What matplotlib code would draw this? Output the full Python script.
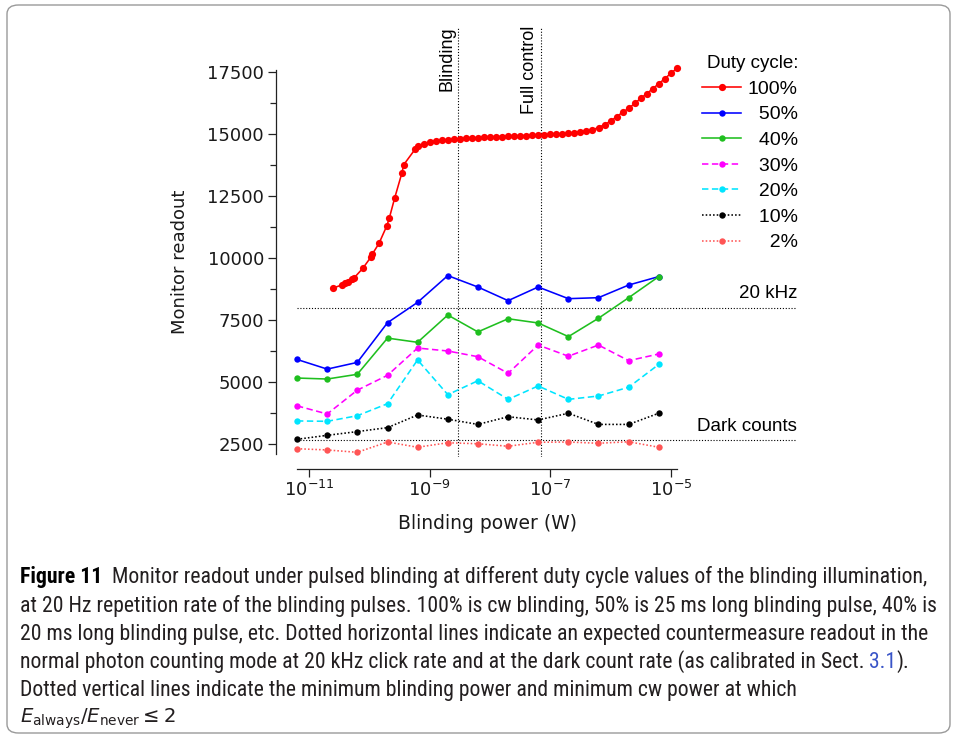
import numpy as np
import matplotlib
matplotlib.use("Agg")
import matplotlib.pyplot as plt
from matplotlib import font_manager
from matplotlib.patches import FancyBboxPatch
from matplotlib.ticker import FixedLocator, NullLocator

# pulsed blinding: power levels (W) shared by the 50..2 % series
power = [6.3e-12, 2.0e-11, 6.3e-11, 2.0e-10, 6.3e-10, 2.0e-9, 6.3e-9,
         2.0e-8, 6.3e-8, 2.0e-7, 6.3e-7, 2.0e-6, 6.3e-6]
duty50 = [5910, 5520, 5790, 7390, 8210, 9290, 8830, 8280, 8830, 8360, 8400, 8910, 9250]
duty40 = [5160, 5120, 5310, 6770, 6600, 7700, 7020, 7550, 7380, 6830, 7570, 8400, 9250]
duty30 = [4040, 3710, 4670, 5270, 6370, 6250, 6020, 5350, 6490, 6040, 6490, 5860, 6130]
duty20 = [3430, 3415, 3640, 4125, 5890, 4490, 5050, 4300, 4840, 4300, 4435, 4790, 5710]
duty10 = [2690, 2850, 3000, 3160, 3670, 3500, 3290, 3600, 3470, 3740, 3290, 3290, 3740]
duty2 = [2310, 2260, 2165, 2580, 2370, 2550, 2510, 2410, 2570, 2580, 2530, 2590, 2370]

# cw blinding (100 %): log10 of power and readout
cw_log_power = [-10.61, -10.46, -10.40, -10.35, -10.29, -10.26, -10.11, -9.97, -9.95,
                -9.84, -9.71, -9.67, -9.58, -9.46, -9.43, -9.24, -9.19,
                -9.1, -9.0, -8.9, -8.8, -8.7, -8.6, -8.5, -8.4, -8.3, -8.2, -8.1,
                -8.0, -7.9, -7.8, -7.7, -7.6, -7.5, -7.4, -7.3, -7.2, -7.1, -7.0,
                -6.9, -6.8, -6.7, -6.6, -6.5, -6.4, -6.3, -6.2, -6.1, -6.0, -5.9,
                -5.8, -5.7, -5.6, -5.5, -5.4, -5.3, -5.2, -5.1, -5.0, -4.9]
cw_readout = [8780, 8910, 8980, 9040, 9140, 9180, 9580, 10050, 10160,
              10590, 11300, 11600, 12420, 13430, 13760, 14390, 14520,
              14600, 14670, 14715, 14745, 14770, 14785, 14800, 14825, 14838, 14850, 14865,
              14878, 14890, 14895, 14905, 14918, 14930, 14935, 14947, 14959, 14970, 14987,
              15000, 15011, 15027, 15052, 15080, 15120, 15175, 15255, 15380, 15515, 15697,
              15874, 16035, 16230, 16439, 16624, 16826, 17030, 17230, 17447, 17648]

labels = ["100%", "50%", "40%", "30%", "20%", "10%", "2%"]
level_20khz = 8000
level_dark = 2650
p_blinding = 3.0e-9
p_full_control = 7.0e-8

caption = [
    "at 20 Hz repetition rate of the blinding pulses. 100% is cw blinding, 50% is 25 ms long blinding pulse, 40% is",
    "20 ms long blinding pulse, etc. Dotted horizontal lines indicate an expected countermeasure readout in the",
    "normal photon counting mode at 20 kHz click rate and at the dark count rate (as calibrated in Sect. ",
    "Dotted vertical lines indicate the minimum blinding power and minimum cw power at which",
]

W, H = 955, 738
PT = 0.72  # points per pixel at dpi 100
fig = plt.figure(figsize=(W / 100, H / 100), dpi=100)

# rounded frame around figure + caption
frame = FancyBboxPatch((7 / W, 5 / H), 943 / W, 728 / H,
                       boxstyle="round,pad=0,rounding_size=0.012",
                       transform=fig.transFigure, fill=False,
                       edgecolor="#9a9a9a", linewidth=1.0)
fig.add_artist(frame)

ax = fig.add_axes([297 / W, 1 - 457 / H, 500 / W, 432 / H])
ax.set_xscale("log")
ax.set_xlim(10 ** -11.2, 10 ** (-11.2 + 500 / 60.3))
ax.set_ylim(1976, 19394)

dot = (0, (1, 1.6))
ax.axhline(level_20khz, color="k", lw=0.8, ls=dot)
ax.axhline(level_dark, color="k", lw=0.8, ls=dot)
ax.axvline(p_blinding, ymax=0.995, color="k", lw=0.8, ls=dot)
ax.axvline(p_full_control, ymax=0.995, color="k", lw=0.8, ls=dot)

cw_power = 10 ** np.array(cw_log_power)
series = [
    (cw_power, cw_readout, "#ff0000", "-", 5.2),
    (power, duty50, "#0000ff", "-", 4.6),
    (power, duty40, "#1fbf1f", "-", 4.6),
    (power, duty30, "#ff00ff", (0, (4, 2.2)), 4.6),
    (power, duty20, "#00e5ff", (0, (4, 2.2)), 4.6),
    (power, duty10, "#000000", (0, (1, 1.3)), 4.6),
    (power, duty2, "#ff5555", (0, (1, 1.3)), 4.6),
]
handles = []
for (x, y, c, ls, ms) in series:
    h, = ax.plot(x, y, color=c, ls=ls, lw=1.15, marker="o", ms=ms,
                 markeredgewidth=0, clip_on=False, zorder=3)
    handles.append(h)

ann_font = "Liberation Sans"
ax.text(p_blinding / 1.12, 19350, "Blinding", rotation=90, ha="right", va="top",
        fontsize=13, family=ann_font)
ax.text(p_full_control / 1.12, 19350, "Full control", rotation=90, ha="right", va="top",
        fontsize=13, family=ann_font)
ax.text(1.0, 8220, "20 kHz", transform=ax.get_yaxis_transform(), ha="right",
        va="bottom", fontsize=13.5, family=ann_font)
ax.text(1.0, 2850, "Dark counts", transform=ax.get_yaxis_transform(), ha="right",
        va="bottom", fontsize=13.5, family=ann_font)

fsp = "\u2007"
leg_labels = [lab.rjust(4, fsp) for lab in labels]
leg = ax.legend(handles, leg_labels, title="Duty cycle:", loc="upper right",
                bbox_to_anchor=(1.002, 0.93), frameon=False, numpoints=1,
                borderpad=0, borderaxespad=0, handlelength=2.0, handletextpad=0.35,
                labelspacing=0.41, prop={"family": ann_font, "size": 14},
                title_fontproperties={"family": ann_font, "size": 13.5},
                alignment="right")

# axes styling
for side in ("top", "right"):
    ax.spines[side].set_visible(False)
ax.spines["left"].set_position(("outward", 21 * PT))
ax.spines["bottom"].set_position(("outward", 12 * PT))
ax.spines["left"].set_bounds(2100, 17560)
ax.spines["bottom"].set_bounds(10 ** -11.2, 10 ** -4.9)
for side in ("left", "bottom"):
    ax.spines[side].set_linewidth(0.9)
    ax.spines[side].set_color("#222222")

ax.yaxis.set_major_locator(FixedLocator([2500, 5000, 7500, 10000, 12500, 15000, 17500]))
ax.yaxis.set_minor_locator(FixedLocator([3750, 6250, 8750, 11250, 13750, 16250]))
ax.xaxis.set_major_locator(FixedLocator([1e-11, 1e-9, 1e-7, 1e-5]))
ax.xaxis.set_minor_locator(NullLocator())
ax.tick_params(which="major", length=8 * PT, width=0.9, color="#222222",
               labelsize=13, labelcolor="#1a1a1a", pad=4 * PT)
ax.tick_params(which="minor", length=6 * PT, width=0.9, color="#222222")
ax.tick_params(axis="x", labelsize=13, pad=3 * PT)

ax.set_xlabel("Blinding power (W)", fontsize=13.5, color="#1a1a1a")
ax.set_ylabel("Monitor readout", fontsize=13, color="#1a1a1a")
ax.xaxis.set_label_coords(0.38, -0.132)
ax.yaxis.set_label_coords(-0.215, 0.452)

# caption
installed = {f.name for f in font_manager.fontManager.ttflist}
cap_font = next((n for n in ["Liberation Sans Narrow", "Roboto Condensed",
                             "Noto Sans Condensed", "Open Sans Condensed", "Roboto"]
                 if n in installed), "DejaVu Sans")
cap_color = "#231f20"
cap_size = 12
baselines = [583, 612, 640, 668, 696, 723]

cap_texts = []
t0 = fig.text(20 / W, 1 - baselines[0] / H, "Figure 11", fontsize=cap_size,
              family=cap_font, weight="bold", color="black", va="baseline")
t1 = ax.annotate("  Monitor readout under pulsed blinding at different duty cycle values "
                 "of the blinding illumination,", xy=(1, 0), xycoords=t0, va="bottom",
                 fontsize=cap_size, family=cap_font, color=cap_color, annotation_clip=False)
cap_texts += [t0, t1]
line_texts = []
for i, line in enumerate(caption):
    t = fig.text(20 / W, 1 - baselines[i + 1] / H, line, fontsize=cap_size,
                 family=cap_font, color=cap_color, va="baseline")
    cap_texts.append(t)
    line_texts.append(t)
    if i == 2:
        tb = ax.annotate("3.1", xy=(1, 0), xycoords=t, va="bottom", fontsize=cap_size,
                         family=cap_font, color="#3a55c8", annotation_clip=False)
        te = ax.annotate(").", xy=(1, 0), xycoords=tb, va="bottom", fontsize=cap_size,
                         family=cap_font, color=cap_color, annotation_clip=False)
        cap_texts += [tb, te]
tm = fig.text(20 / W, 1 - baselines[5] / H,
              r"$E_{\mathrm{always}}/E_{\mathrm{never}} \leq 2$",
              fontsize=cap_size, color=cap_color, va="baseline")

# fit caption width inside the frame (widest line -> 921 px)
fig.canvas.draw()
r = fig.canvas.get_renderer()
widths = [t1.get_window_extent(r).x1 - t0.get_window_extent(r).x0]
widths += [t.get_window_extent(r).width for t in line_texts]
scale = 921 / max(widths)
for t in cap_texts:
    t.set_fontsize(min(cap_size * scale, 16.5))
tm.set_fontsize(min(cap_size * scale, 16.5) * 0.9)

fig.savefig("out.png", dpi=100)
